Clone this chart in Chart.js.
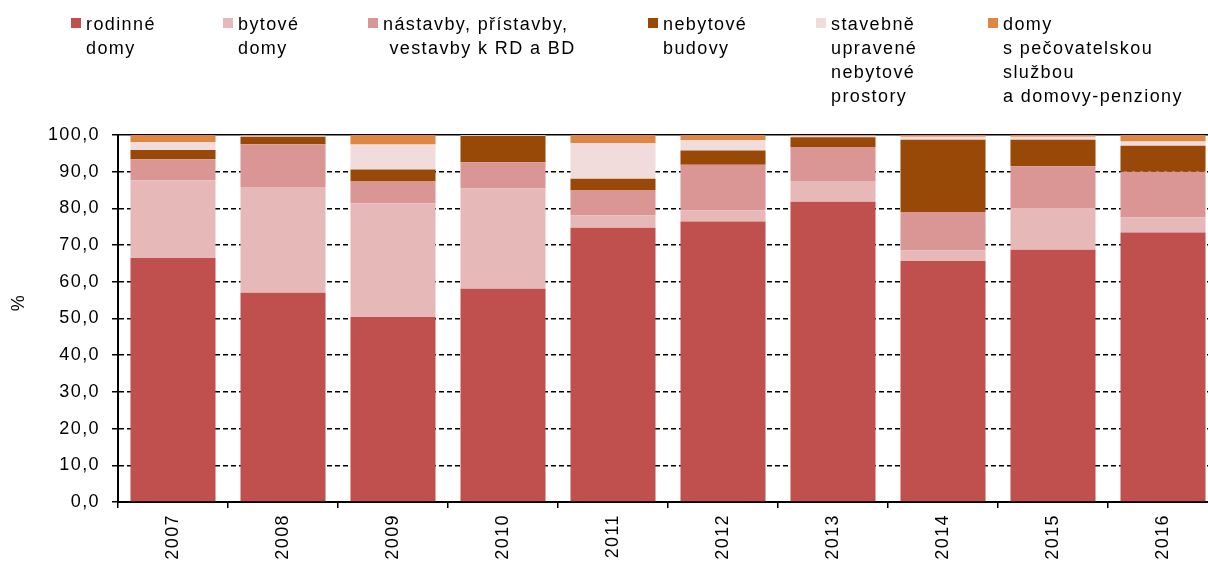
<!DOCTYPE html>
<html lang="cs">
<head>
<meta charset="utf-8">
<title>Struktura dokončených bytů</title>
<script src="https://cdn.jsdelivr.net/npm/chart.js@4/dist/chart.umd.min.js"></script>
<style>
    body { margin: 0; overflow: hidden; background: #fff; }
    #obal { position: relative; width: 1230px; height: 562px; }
    #graf { position: absolute; left: 0; top: 0; }
    .polozka {
        position: absolute; top: 12px;
        font: 18px "Liberation Sans", Arial, sans-serif;
        letter-spacing: 1.4px; line-height: 24px; color: #000;
        white-space: pre;
    }
    .polozka i { position: absolute; left: 0; top: 6px; width: 10px; height: 10px; }
    .polozka span { display: block; margin-left: 15px; }
</style>
</head>
<body>
<div id="obal">
    <canvas id="graf" width="1230" height="562"></canvas>
</div>
<script>
// Data (podíl v %)
const roky = ['2007', '2008', '2009', '2010', '2011', '2012', '2013', '2014', '2015', '2016'];
const rodinneDomy = [66.5, 57.0, 50.4, 58.1, 74.7, 76.4, 81.8, 65.7, 68.7, 73.4];
const bytoveDomy = [21.2, 28.8, 31.0, 27.4, 3.4, 3.1, 5.7, 2.8, 11.4, 4.2];
const nastavby = [5.7, 11.7, 5.9, 7.1, 6.8, 12.4, 9.2, 10.5, 11.4, 12.4];
const nebytoveBudovy = [2.5, 2.0, 3.3, 7.1, 3.2, 3.9, 2.7, 19.7, 7.2, 7.1];
const stavebneUpravene = [2.1, 0.3, 6.8, 0.2, 9.7, 2.8, 0.4, 0.8, 0.8, 1.1];
const domyPecovatelske = [2.0, 0.2, 2.6, 0.1, 2.2, 1.4, 0.2, 0.5, 0.5, 1.8];

const nazvyRad = [
    'rodinné\ndomy',
    'bytové\ndomy',
    'nástavby, přístavby,\n vestavby k RD a BD',
    'nebytové\nbudovy',
    'stavebně\nupravené\nnebytové\nprostory',
    'domy\ns pečovatelskou\nslužbou\na domovy-penziony'
];
const hodnotyOsyY = [0, 10, 20, 30, 40, 50, 60, 70, 80, 90, 100];

const barvy = ['#C0504D', '#E6B9B8', '#D99694', '#984807', '#F2DCDB', '#DE8642'];
const legendaX = [71, 223, 368, 648, 816, 988];

const PISMO = { family: '"Liberation Sans", Arial, sans-serif', size: 18 };

// Chart.js neumí proložení písma, doplníme ho pluginem
const prolozeniPlugin = {
    id: 'prolozeni',
    beforeLayout(chart) { chart.ctx.letterSpacing = '1.4px'; },
    beforeDraw(chart) { chart.ctx.letterSpacing = '1.4px'; }
};

const Graf = {
    init() {
        this.vykresliLegendu();
        this.vykresliGraf();
    },

    // Legenda je v HTML kvůli víceřádkovým popiskům
    vykresliLegendu() {
        const obal = document.getElementById('obal');
        nazvyRad.forEach((nazev, i) => {
            const el = document.createElement('div');
            el.className = 'polozka';
            el.style.left = legendaX[i] + 'px';
            const ctverec = document.createElement('i');
            ctverec.style.background = barvy[i];
            const text = document.createElement('span');
            text.textContent = nazev;
            el.appendChild(ctverec);
            el.appendChild(text);
            obal.appendChild(el);
        });
    },

    vykresliGraf() {
        const rady = [rodinneDomy, bytoveDomy, nastavby, nebytoveBudovy, stavebneUpravene, domyPecovatelske];
        const ctx = document.getElementById('graf').getContext('2d');

        new Chart(ctx, {
            type: 'bar',
            data: {
                labels: roky,
                datasets: rady.map((data, i) => ({
                    label: nazvyRad[i].replace(/\n/g, ' '),
                    data: data,
                    backgroundColor: barvy[i],
                    borderWidth: 0,
                    barPercentage: 0.773,
                    categoryPercentage: 1
                }))
            },
            options: {
                responsive: false,
                animation: false,
                devicePixelRatio: 1,
                layout: { padding: { top: 135, right: 12, bottom: 0, left: 0 } },
                plugins: {
                    legend: { display: false },
                    tooltip: { enabled: false }
                },
                scales: {
                    x: {
                        stacked: true,
                        afterFit(scale) { scale.height = 60; },
                        grid: {
                            offset: true,
                            drawOnChartArea: false,
                            color: '#000',
                            lineWidth: 1.5,
                            tickLength: 6
                        },
                        border: { color: '#000', width: 2 },
                        ticks: {
                            color: '#000',
                            font: PISMO,
                            autoSkip: false,
                            minRotation: 90,
                            maxRotation: 90,
                            padding: 6
                        }
                    },
                    y: {
                        stacked: true,
                        min: 0,
                        max: 100,
                        afterFit(scale) { scale.width = 118; },
                        afterBuildTicks(scale) {
                            scale.ticks = hodnotyOsyY.map(v => ({ value: v }));
                        },
                        title: {
                            display: true,
                            // mezery vpředu posunou znak % výš, jako v předloze
                            text: '\u00a0\u00a0\u00a0\u00a0\u00a0%',
                            color: '#000',
                            font: PISMO,
                            padding: { top: 8, bottom: 0 }
                        },
                        grid: {
                            color: '#000',
                            lineWidth: 1.5,
                            tickLength: 6,
                            tickBorderDash: [],
                            tickWidth: 1.5
                        },
                        border: {
                            color: '#000',
                            width: 2,
                            dash: (c) => (c.tick && c.tick.value === 100 ? [] : [5, 3])
                        },
                        ticks: {
                            color: '#000',
                            font: PISMO,
                            padding: 12,
                            callback: (v) => v.toFixed(1).replace('.', ',')
                        }
                    }
                }
            },
            plugins: [prolozeniPlugin]
        });
    }
};

document.addEventListener('DOMContentLoaded', () => {
    Graf.init();
});
</script>
</body>
</html>
